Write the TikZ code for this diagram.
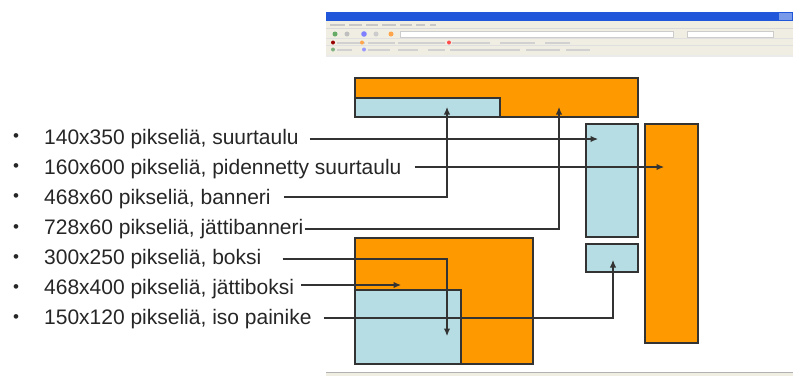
\documentclass[tikz,border=0pt]{standalone}
\usepackage{fontspec}
\setmainfont{Liberation Sans}
\usetikzlibrary{arrows.meta}
\definecolor{adorange}{HTML}{FF9900}
\definecolor{adblue}{HTML}{B6DDE4}
\definecolor{xpblue}{HTML}{1F56DA}
\definecolor{xpbar}{HTML}{F0EEE3}
\definecolor{txt}{HTML}{262626}
\definecolor{edge}{HTML}{333333}
\tikzset{
  adbox/.style={draw=edge, line width=1.1pt, inner sep=0pt, outer sep=0pt, anchor=north west},
  orangebox/.style={adbox, fill=adorange},
  bluebox/.style={adbox, fill=adblue},
  label/.style={anchor=west, inner sep=0pt, text=txt, font=\fontsize{21}{25}\selectfont, text height=15pt, text depth=4.5pt},
  bullet/.style={inner sep=0pt, text=txt, font=\fontsize{17}{19}\selectfont},
  conn/.style={draw=edge, line width=1.1pt, -{Latex[length=7.5pt,width=6.5pt]}},
}
\begin{document}
\begin{tikzpicture}[x=1pt,y=-1pt]
\useasboundingbox (0,0) rectangle (793,376);
% browser chrome
\fill[white] (0,0) rectangle (793,376);
\fill[xpbar] (326,20) rectangle (793,55);
\fill[xpblue] (326,12) rectangle (793,20.5);
\fill[xpblue!60!white] (779,13) rectangle (792,19.5);
\foreach \a/\b in {330/345,349/362,366/378,382/396,400/412,416/425,430/436}
  \fill[black!22] (\a,23.5) rectangle (\b,25.5);
\draw[black!15] (326,28.5) -- (793,28.5);
\fill[white] (400,31) rectangle (673,37.5);
\draw[black!20] (400,31) rectangle (673,37.5);
\fill[white] (687,31) rectangle (773,37.5);
\draw[black!20] (687,31) rectangle (773,37.5);
\fill[green!45!black!60] (335,34) circle (2.5);
\fill[black!25] (347,34) circle (2.5);
\fill[blue!50] (364,34) circle (2.8);
\fill[black!20] (376,34) circle (2.5);
\fill[orange!70] (391,34) circle (2.5);
\draw[black!12] (326,38.5) -- (793,38.5);
\fill[red!60!black] (333,42.5) circle (2);
\fill[black!18] (337,41.5) rectangle (365,43.5);
\fill[orange!70] (362,42.5) circle (2);
\fill[black!18] (368,41.5) rectangle (395,43.5);
\fill[black!18] (398,41.5) rectangle (445,43.5);
\fill[red!70] (449,42.5) circle (2);
\fill[black!18] (452,41.5) rectangle (490,43.5);
\fill[black!18] (500,41.5) rectangle (535,43.5);
\fill[black!18] (545,41.5) rectangle (570,43.5);
\draw[black!12] (326,45.5) -- (793,45.5);
\fill[green!40!black!50] (333,49.5) circle (2);
\fill[black!18] (337,48.5) rectangle (352,50.5);
\fill[blue!40] (364,49.5) circle (2);
\fill[black!18] (368,48.5) rectangle (390,50.5);
\fill[black!18] (398,48.5) rectangle (418,50.5);
\fill[black!18] (428,48.5) rectangle (445,50.5);
\fill[black!18] (450,48.5) rectangle (520,50.5);
\fill[black!18] (526,48.5) rectangle (560,50.5);
\fill[black!18] (566,48.5) rectangle (590,50.5);
\fill[black!8] (326,55) rectangle (793,57);
\fill[xpbar] (326,372) rectangle (793,376);
\draw[black!30, line width=1pt] (326,372.5) -- (793,372.5);

% ad boxes
\node[orangebox, minimum width=283pt, minimum height=39pt] (jattibanneri) at (355,78) {};
\node[bluebox, minimum width=145pt, minimum height=19pt] (banneri) at (355,98) {};
\node[bluebox, minimum width=52pt, minimum height=113pt] (suurtaulu) at (586,124) {};
\node[orangebox, minimum width=53pt, minimum height=219pt] (pidennetty) at (645,124) {};
\node[bluebox, minimum width=52pt, minimum height=28pt] (painike) at (586,244) {};
\node[orangebox, minimum width=178pt, minimum height=126pt] (jattiboksi) at (355,238) {};
\node[bluebox, minimum width=106pt, minimum height=74pt] (boksi) at (355,290) {};

% labels
\foreach \i/\y/\t in {1/139/{140x350 pikseliä, suurtaulu},
                      2/169/{160x600 pikseliä, pidennetty suurtaulu},
                      3/199/{468x60 pikseliä, banneri},
                      4/229.5/{728x60 pikseliä, jättibanneri},
                      5/259.5/{300x250 pikseliä, boksi},
                      6/289.5/{468x400 pikseliä, jättiboksi},
                      7/319.5/{150x120 pikseliä, iso painike}} {
  \node[bullet] (b\i) at (16,\y-1) {•};
  \node[label] (t\i) at (44,\y) {\t};
}

% connector end points
\coordinate (c1) at (598,139);
\coordinate (c2) at (664,167);
\coordinate (c3) at (447,197);
\coordinate (e3) at (447,107);
\coordinate (c4) at (559,229);
\coordinate (e4) at (559,107);
\coordinate (c5) at (447,259);
\coordinate (e5) at (447,336);
\coordinate (c6) at (401,285);
\coordinate (c7) at (613,318);
\coordinate (e7) at (613,260);

\draw[conn, shorten <=11pt] (t1.east |- c1) -- (c1);
\draw[conn, shorten <=13pt] (t2.east |- c2) -- (c2);
\draw[conn, shorten <=13pt] (t3.east |- c3) -- (c3) -- (e3);
\draw[conn, shorten <=1pt] (t4.east |- c4) -- (c4) -- (e4);
\draw[conn, shorten <=21pt] (t5.east |- c5) -- (c5) -- (e5);
\draw[conn, shorten <=7pt] (t6.east |- c6) -- (c6);
\draw[conn, shorten <=12pt] (t7.east |- c7) -- (c7) -- (e7);
\end{tikzpicture}
\end{document}
